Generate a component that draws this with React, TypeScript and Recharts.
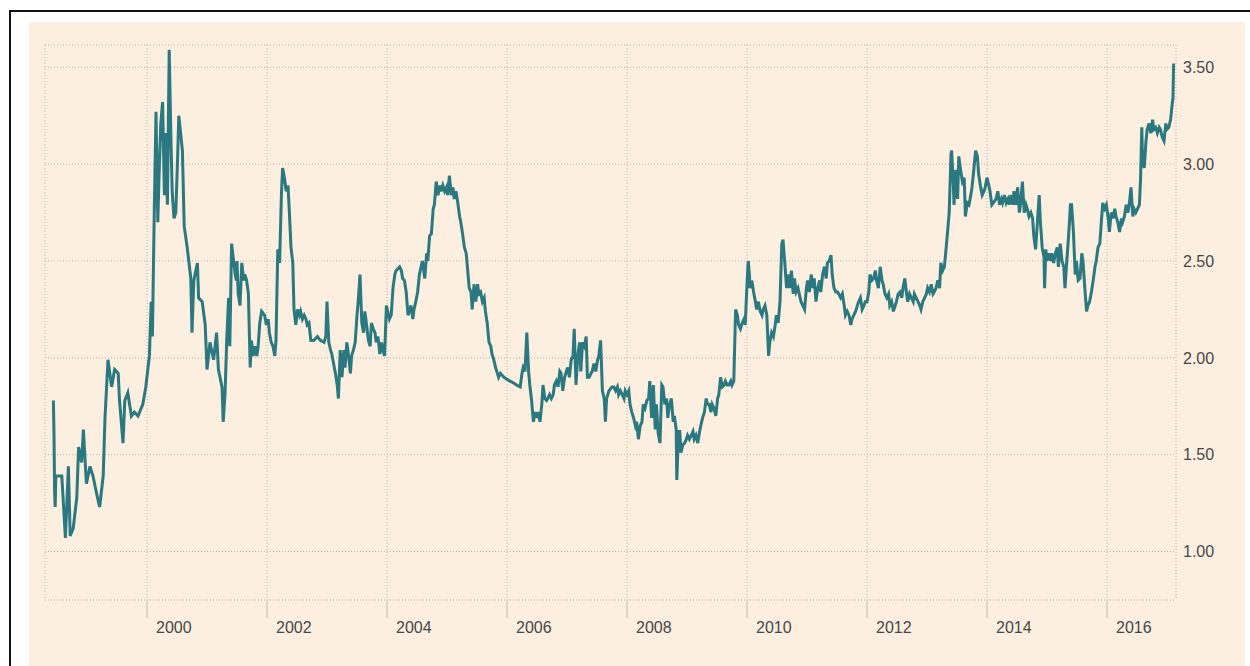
import React from 'react';
import { LineChart, Line, XAxis, YAxis, CartesianGrid } from 'recharts';

// [year, rate] pairs, split by period
const seg1998 = [
  [1998.44, 1.78], [1998.45, 1.6], [1998.46, 1.31], [1998.47, 1.23], [1998.48, 1.39], [1998.58, 1.39],
  [1998.64, 1.07], [1998.69, 1.44], [1998.72, 1.08], [1998.77, 1.12], [1998.83, 1.28], [1998.86, 1.54],
  [1998.91, 1.46], [1998.94, 1.63], [1998.99, 1.35], [1999.05, 1.44], [1999.1, 1.39], [1999.16, 1.3],
  [1999.21, 1.23], [1999.27, 1.39], [1999.3, 1.69], [1999.35, 1.99], [1999.41, 1.85], [1999.46, 1.94],
  [1999.52, 1.92], [1999.54, 1.79], [1999.6, 1.56], [1999.63, 1.78], [1999.68, 1.82], [1999.74, 1.7],
  [1999.79, 1.72], [1999.85, 1.7], [1999.93, 1.76], [1999.98, 1.85], [2000.04, 2.01], [2000.07, 2.29],
  [2000.09, 2.11], [2000.12, 2.73], [2000.15, 3.27], [2000.18, 2.7], [2000.2, 2.93], [2000.23, 3.21],
  [2000.26, 3.32], [2000.29, 2.84], [2000.31, 3.16], [2000.34, 2.79], [2000.37, 3.59], [2000.4, 3.11],
  [2000.42, 2.86], [2000.45, 2.72], [2000.48, 2.75], [2000.51, 3.03], [2000.53, 3.25], [2000.59, 3.07],
  [2000.62, 2.68], [2000.67, 2.57], [2000.73, 2.41], [2000.75, 2.13], [2000.78, 2.4], [2000.84, 2.49],
  [2000.86, 2.31], [2000.92, 2.29], [2000.97, 2.17], [2001.0, 1.94], [2001.05, 2.08], [2001.11, 1.99],
  [2001.16, 2.13], [2001.19, 1.94], [2001.25, 1.85], [2001.27, 1.67], [2001.3, 1.81], [2001.33, 2.1],
  [2001.36, 2.31], [2001.38, 2.06], [2001.41, 2.59], [2001.47, 2.43],
];

const seg2001 = [
  [2001.49, 2.4], [2001.5, 2.5], [2001.52, 2.33], [2001.55, 2.27], [2001.58, 2.49], [2001.61, 2.4],
  [2001.63, 2.43], [2001.66, 2.4], [2001.69, 2.33], [2001.72, 1.95], [2001.74, 2.09], [2001.77, 2.01],
  [2001.8, 2.06], [2001.83, 2.01], [2001.85, 2.05], [2001.88, 2.18], [2001.91, 2.24], [2001.96, 2.22],
  [2001.99, 2.17], [2002.02, 2.2], [2002.04, 2.13], [2002.07, 2.08], [2002.1, 2.06], [2002.13, 2.01],
  [2002.15, 2.09], [2002.18, 2.56], [2002.21, 2.49], [2002.24, 2.84], [2002.26, 2.98], [2002.29, 2.93],
  [2002.32, 2.86], [2002.35, 2.89], [2002.37, 2.77], [2002.4, 2.57], [2002.43, 2.49], [2002.45, 2.25],
  [2002.48, 2.17], [2002.51, 2.25], [2002.54, 2.22], [2002.56, 2.24], [2002.59, 2.2], [2002.62, 2.22],
  [2002.65, 2.2], [2002.67, 2.17], [2002.7, 2.18], [2002.73, 2.09], [2002.78, 2.09], [2002.84, 2.11],
  [2002.89, 2.09], [2002.95, 2.08], [2002.98, 2.11], [2003.0, 2.29], [2003.03, 2.08], [2003.06, 2.04],
  [2003.08, 2.02], [2003.11, 1.97], [2003.14, 1.92], [2003.17, 1.86], [2003.19, 1.79], [2003.22, 2.04],
  [2003.25, 1.9], [2003.28, 2.04], [2003.3, 1.95], [2003.33, 2.08], [2003.36, 2.01], [2003.39, 1.92],
  [2003.41, 2.01], [2003.44, 2.04], [2003.47, 2.08], [2003.5, 2.22], [2003.52, 2.29], [2003.55, 2.43],
  [2003.58, 2.18], [2003.61, 2.13], [2003.63, 2.24], [2003.66, 2.17], [2003.69, 2.09], [2003.72, 2.06],
  [2003.74, 2.18], [2003.77, 2.15], [2003.8, 2.13], [2003.82, 2.08], [2003.85, 2.11], [2003.88, 2.02],
  [2003.91, 2.08], [2003.93, 2.04], [2003.96, 2.01], [2003.99, 2.27], [2004.04, 2.2], [2004.07, 2.22],
  [2004.1, 2.36], [2004.13, 2.43], [2004.15, 2.45], [2004.21, 2.47], [2004.24, 2.45], [2004.26, 2.41],
  [2004.29, 2.4], [2004.32, 2.34], [2004.35, 2.22], [2004.37, 2.24], [2004.4, 2.27], [2004.43, 2.2],
  [2004.45, 2.25], [2004.48, 2.29], [2004.51, 2.34], [2004.54, 2.43], [2004.59, 2.5],
];

const seg2004 = [
  [2004.63, 2.41], [2004.66, 2.54], [2004.68, 2.5], [2004.71, 2.63], [2004.74, 2.64], [2004.77, 2.77],
  [2004.79, 2.79], [2004.82, 2.91], [2004.85, 2.84], [2004.88, 2.89], [2004.9, 2.86], [2004.93, 2.89],
  [2004.96, 2.86], [2004.99, 2.88], [2005.01, 2.84], [2005.04, 2.94], [2005.07, 2.84], [2005.1, 2.88],
  [2005.12, 2.82], [2005.15, 2.86], [2005.18, 2.8], [2005.21, 2.73], [2005.23, 2.7], [2005.26, 2.64],
  [2005.29, 2.57], [2005.32, 2.54], [2005.34, 2.47], [2005.37, 2.36], [2005.4, 2.34], [2005.42, 2.25],
  [2005.45, 2.38], [2005.48, 2.29], [2005.51, 2.38], [2005.53, 2.33], [2005.56, 2.34], [2005.59, 2.29],
  [2005.62, 2.31], [2005.64, 2.24], [2005.67, 2.18], [2005.7, 2.08], [2005.73, 2.06], [2005.75, 2.02],
  [2005.78, 1.99], [2005.81, 1.95], [2005.84, 1.92], [2005.86, 1.9], [2005.89, 1.92], [2005.95, 1.9],
  [2006.0, 1.89], [2006.05, 1.88], [2006.11, 1.87], [2006.16, 1.86], [2006.22, 1.85], [2006.25, 1.92],
  [2006.27, 1.95], [2006.3, 1.93], [2006.33, 2.13], [2006.36, 1.93], [2006.38, 1.86], [2006.41, 1.78],
  [2006.44, 1.67], [2006.47, 1.72], [2006.49, 1.69], [2006.52, 1.72], [2006.55, 1.67], [2006.58, 1.76],
  [2006.6, 1.86], [2006.63, 1.79], [2006.66, 1.78], [2006.68, 1.79], [2006.71, 1.81], [2006.74, 1.79],
  [2006.77, 1.81], [2006.79, 1.86], [2006.82, 1.88], [2006.85, 1.85], [2006.88, 1.93], [2006.9, 1.92],
  [2006.93, 1.83], [2006.96, 1.9], [2006.99, 1.93], [2007.01, 1.95], [2007.04, 1.9], [2007.07, 1.99],
  [2007.1, 2.01], [2007.12, 2.15], [2007.15, 1.86], [2007.18, 2.01], [2007.21, 2.08], [2007.23, 1.93],
  [2007.26, 2.08], [2007.29, 2.06], [2007.32, 2.11], [2007.34, 1.9], [2007.37, 1.9], [2007.4, 1.92],
  [2007.42, 1.93], [2007.45, 1.97], [2007.48, 1.93], [2007.51, 1.99], [2007.53, 2.01], [2007.56, 2.09],
  [2007.59, 1.83], [2007.62, 1.79], [2007.64, 1.67], [2007.66, 1.79], [2007.7, 1.83], [2007.75, 1.85],
];

const seg2007 = [
  [2007.78, 1.85], [2007.81, 1.83], [2007.84, 1.85], [2007.86, 1.81], [2007.89, 1.83], [2007.92, 1.81],
  [2007.95, 1.79], [2007.97, 1.83], [2008.0, 1.81], [2008.03, 1.83], [2008.05, 1.76], [2008.08, 1.72],
  [2008.11, 1.69], [2008.14, 1.65], [2008.16, 1.67], [2008.19, 1.58], [2008.22, 1.65], [2008.25, 1.67],
  [2008.27, 1.76], [2008.3, 1.74], [2008.33, 1.78], [2008.36, 1.79], [2008.38, 1.88], [2008.41, 1.69],
  [2008.44, 1.86], [2008.47, 1.63], [2008.49, 1.76], [2008.52, 1.61], [2008.55, 1.56], [2008.58, 1.86],
  [2008.6, 1.85], [2008.63, 1.76], [2008.66, 1.79], [2008.68, 1.69], [2008.71, 1.76], [2008.74, 1.79],
  [2008.77, 1.67], [2008.79, 1.7], [2008.82, 1.63], [2008.83, 1.37], [2008.86, 1.62], [2008.88, 1.62],
  [2008.9, 1.51], [2008.93, 1.55], [2008.96, 1.56], [2008.99, 1.58], [2009.01, 1.6], [2009.04, 1.58],
  [2009.07, 1.6], [2009.1, 1.62], [2009.12, 1.58], [2009.15, 1.6], [2009.18, 1.56], [2009.21, 1.62],
  [2009.23, 1.65], [2009.26, 1.69], [2009.29, 1.72], [2009.32, 1.79], [2009.34, 1.76], [2009.37, 1.76],
  [2009.4, 1.72], [2009.42, 1.76], [2009.45, 1.74], [2009.48, 1.7], [2009.51, 1.79], [2009.53, 1.81],
  [2009.56, 1.9], [2009.59, 1.85], [2009.62, 1.86], [2009.64, 1.88], [2009.67, 1.86], [2009.7, 1.86],
  [2009.73, 1.88], [2009.75, 1.86], [2009.78, 1.88], [2009.81, 2.25], [2009.84, 2.22], [2009.86, 2.17],
  [2009.89, 2.15], [2009.92, 2.18], [2009.95, 2.2], [2009.97, 2.17], [2010.0, 2.38], [2010.02, 2.5],
  [2010.04, 2.43], [2010.05, 2.36], [2010.08, 2.4], [2010.11, 2.34], [2010.14, 2.29], [2010.16, 2.25],
  [2010.19, 2.29], [2010.22, 2.24], [2010.25, 2.22], [2010.27, 2.25], [2010.3, 2.27], [2010.33, 2.22],
  [2010.36, 2.01], [2010.38, 2.08], [2010.41, 2.13], [2010.44, 2.11], [2010.47, 2.17], [2010.49, 2.22],
  [2010.52, 2.18], [2010.55, 2.29], [2010.58, 2.59], [2010.6, 2.61], [2010.63, 2.49], [2010.66, 2.36],
  [2010.68, 2.43], [2010.71, 2.36], [2010.74, 2.45], [2010.77, 2.33], [2010.79, 2.41], [2010.82, 2.34],
  [2010.85, 2.36], [2010.9, 2.29],
];

const seg2011 = [
  [2010.96, 2.25], [2010.99, 2.36], [2011.01, 2.4], [2011.04, 2.34], [2011.07, 2.43], [2011.1, 2.36],
  [2011.12, 2.41], [2011.15, 2.29], [2011.18, 2.36], [2011.21, 2.4], [2011.23, 2.34], [2011.26, 2.43],
  [2011.29, 2.47], [2011.32, 2.41], [2011.34, 2.49], [2011.37, 2.5], [2011.4, 2.53], [2011.42, 2.43],
  [2011.45, 2.36], [2011.48, 2.34], [2011.51, 2.34], [2011.53, 2.33], [2011.56, 2.31], [2011.59, 2.33],
  [2011.62, 2.27], [2011.64, 2.22], [2011.67, 2.24], [2011.7, 2.22], [2011.73, 2.17], [2011.75, 2.2],
  [2011.78, 2.22], [2011.81, 2.24], [2011.84, 2.27], [2011.86, 2.29], [2011.89, 2.31], [2011.92, 2.25],
  [2011.95, 2.27], [2011.97, 2.29], [2012.0, 2.29], [2012.03, 2.34], [2012.05, 2.43], [2012.08, 2.4],
  [2012.11, 2.41], [2012.14, 2.45], [2012.16, 2.4], [2012.19, 2.36], [2012.22, 2.47], [2012.25, 2.4],
  [2012.27, 2.38], [2012.3, 2.33], [2012.33, 2.31], [2012.36, 2.33], [2012.38, 2.27], [2012.41, 2.29],
  [2012.44, 2.24], [2012.47, 2.27], [2012.49, 2.29], [2012.52, 2.33], [2012.55, 2.34], [2012.58, 2.31],
  [2012.6, 2.36], [2012.63, 2.41], [2012.66, 2.33], [2012.68, 2.29], [2012.71, 2.33], [2012.74, 2.31],
  [2012.77, 2.29], [2012.79, 2.33], [2012.82, 2.31], [2012.85, 2.29], [2012.88, 2.27], [2012.9, 2.25],
  [2012.93, 2.29], [2012.96, 2.31], [2012.99, 2.33], [2013.01, 2.36], [2013.04, 2.34], [2013.07, 2.38],
  [2013.1, 2.33], [2013.12, 2.34], [2013.15, 2.36], [2013.18, 2.4], [2013.21, 2.36], [2013.23, 2.49],
  [2013.26, 2.45], [2013.29, 2.47], [2013.32, 2.57], [2013.34, 2.64], [2013.37, 2.75], [2013.4, 3.05],
  [2013.41, 3.07], [2013.44, 2.89], [2013.45, 2.79], [2013.48, 2.97], [2013.51, 2.82], [2013.53, 3.04],
  [2013.56, 2.97], [2013.59, 2.91], [2013.62, 2.93], [2013.64, 2.73], [2013.67, 2.8], [2013.7, 2.79],
  [2013.73, 2.84], [2013.75, 2.88], [2013.78, 2.97], [2013.81, 3.07], [2013.84, 3.04], [2013.86, 2.95],
  [2013.89, 2.89], [2013.92, 2.84], [2013.95, 2.86], [2013.97, 2.88], [2014.0, 2.93], [2014.03, 2.89],
  [2014.05, 2.86], [2014.08, 2.79],
];

const seg2014 = [
  [2014.15, 2.82], [2014.18, 2.86], [2014.21, 2.79], [2014.24, 2.82], [2014.26, 2.8], [2014.29, 2.84],
  [2014.32, 2.8], [2014.35, 2.82], [2014.37, 2.79], [2014.4, 2.84], [2014.43, 2.79], [2014.45, 2.86],
  [2014.48, 2.79], [2014.51, 2.88], [2014.54, 2.75], [2014.56, 2.8], [2014.59, 2.91], [2014.62, 2.75],
  [2014.65, 2.79], [2014.67, 2.77], [2014.7, 2.73], [2014.73, 2.75], [2014.76, 2.72], [2014.78, 2.63],
  [2014.81, 2.56], [2014.84, 2.7], [2014.87, 2.84], [2014.89, 2.7], [2014.92, 2.57], [2014.95, 2.52],
  [2014.96, 2.36], [2014.98, 2.56], [2015.0, 2.5], [2015.03, 2.54], [2015.06, 2.5], [2015.08, 2.54],
  [2015.11, 2.49], [2015.14, 2.54], [2015.17, 2.57], [2015.19, 2.47], [2015.22, 2.59], [2015.25, 2.5],
  [2015.28, 2.47], [2015.3, 2.36], [2015.33, 2.5], [2015.36, 2.63], [2015.39, 2.79], [2015.41, 2.79],
  [2015.44, 2.65], [2015.47, 2.43], [2015.49, 2.5], [2015.52, 2.4], [2015.55, 2.41], [2015.58, 2.54],
  [2015.6, 2.5], [2015.63, 2.36], [2015.66, 2.24], [2015.68, 2.27], [2015.71, 2.29], [2015.74, 2.34],
  [2015.77, 2.4], [2015.8, 2.47], [2015.82, 2.5], [2015.85, 2.57], [2015.88, 2.59], [2015.91, 2.72],
  [2015.93, 2.8], [2015.96, 2.77], [2015.99, 2.79], [2016.02, 2.72], [2016.04, 2.65], [2016.07, 2.75],
  [2016.1, 2.72], [2016.13, 2.77], [2016.15, 2.73], [2016.18, 2.7], [2016.21, 2.65], [2016.24, 2.72],
  [2016.26, 2.7], [2016.29, 2.73], [2016.32, 2.79], [2016.35, 2.75], [2016.37, 2.79], [2016.4, 2.88],
  [2016.43, 2.73], [2016.45, 2.77], [2016.48, 2.75], [2016.51, 2.77], [2016.54, 2.79], [2016.56, 2.93],
  [2016.58, 3.19], [2016.59, 3.05], [2016.62, 2.98], [2016.65, 3.12], [2016.67, 3.18], [2016.7, 3.21],
  [2016.73, 3.16], [2016.76, 3.23], [2016.78, 3.18], [2016.81, 3.19], [2016.84, 3.16], [2016.87, 3.19],
  [2016.89, 3.18], [2016.92, 3.14], [2016.95, 3.12], [2016.98, 3.21], [2017.0, 3.18], [2017.03, 3.19],
  [2017.06, 3.23], [2017.09, 3.32], [2017.1, 3.34], [2017.11, 3.52],
];

const yearTicks = [2000, 2002, 2004, 2006, 2008, 2010, 2012, 2014, 2016];
const rateTicks = [1, 1.5, 2, 2.5, 3, 3.5];

const data = [...seg1998, ...seg2001, ...seg2004, ...seg2007, ...seg2011, ...seg2014].map(([year, rate]) => ({ year, rate }));

const FONT = '"Liberation Sans", Arial, sans-serif';

const YearTick = (props: any) => {
  const { x, y, payload } = props;
  return (
    <text x={x + 9} y={y} dy="0.71em" textAnchor="start" fontFamily={FONT} fontSize={16} fill="#474747">
      {payload.value}
    </text>
  );
};

const RateTick = (props: any) => {
  const { x, y, payload } = props;
  return (
    <text x={x} y={y} dy="0.36em" textAnchor="start" fontFamily={FONT} fontSize={16} fill="#474747">
      {Number(payload.value).toFixed(2)}
    </text>
  );
};

export default function App() {
  return (
    <div style={{ position: 'fixed', left: 0, top: 0, width: 1250, height: 666, background: '#fff', overflow: 'hidden' }}>
      {/* frame */}
      <div style={{ position: 'absolute', left: 9, top: 10, width: 1300, height: 700, borderLeft: '2px solid #111', borderTop: '2px solid #111' }} />
      <div style={{ position: 'absolute', left: 29, top: 22, width: 1216, height: 644, background: '#fcefdf' }}>
        <LineChart width={1216} height={644} data={data} margin={{ top: 23, right: 9, bottom: 26, left: 16 }}>
          <CartesianGrid stroke="#b9b0a4" strokeDasharray="1 2" />
          <XAxis
            dataKey="year"
            type="number"
            domain={[1998.3, 2017.15]}
            ticks={yearTicks}
            allowDataOverflow
            axisLine={false}
            tickSize={18}
            tickMargin={4}
            tickLine={{ stroke: '#c2b9ad' }}
            height={40}
            tick={<YearTick />}
          />
          <YAxis
            orientation="right"
            type="number"
            domain={[0.75, 3.615]}
            ticks={rateTicks}
            allowDataOverflow
            axisLine={false}
            tickLine={false}
            tickSize={5}
            tickMargin={2}
            width={60}
            tick={<RateTick />}
          />
          <Line
            type="linear"
            dataKey="rate"
            stroke="#2a7880"
            strokeWidth={3}
            dot={false}
            isAnimationActive={false}
          />
        </LineChart>
      </div>
    </div>
  );
}
